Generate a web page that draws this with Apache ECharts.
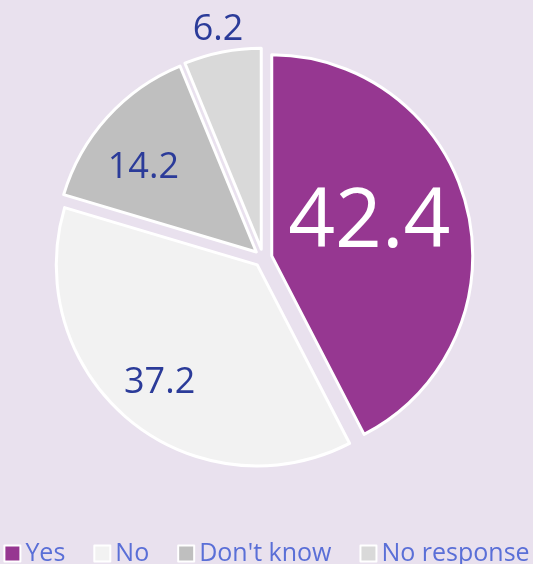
<!DOCTYPE html>
<html>
<head>
<meta charset="utf-8">
<script src="https://cdn.jsdelivr.net/npm/echarts@6/dist/echarts.min.js"></script>
<style>
  html, body { margin: 0; padding: 0; background: #e9e1ee; }
  #chart { width: 533px; height: 564px; }
</style>
</head>
<body>
<div id="chart"></div>
<script>
const categories = ['Yes', 'No', "Don't know", 'No response'];
const values = [42.4, 37.2, 14.2, 6.2];
const sliceColors = ['#963791', '#f2f2f2', '#bfbfbf', '#d9d9d9'];

// how far out each label sits, relative to the default inside spot, plus a small nudge
const labelScale = [1.0, 1.48, 1.38, 2.16];
const labelNudge = [[-3, -8], [0, 0], [-7, 12], [0, 0]];
const CX = 263, CY = 258;

const myChart = echarts.init(document.getElementById('chart'));

const option = {
  backgroundColor: '#e9e1ee',
  animation: false,
  legend: {
    top: 541,
    left: 'center',
    padding: 0,
    icon: 'rect',
    itemWidth: 16,
    itemHeight: 16,
    itemGap: 28,
    selectedMode: false,
    itemStyle: { borderColor: '#ffffff', borderWidth: 2 },
    textStyle: { color: '#5a6fd7', fontSize: 25, fontFamily: 'Open Sans' },
    data: categories
  },
  series: [
    {
      type: 'pie',
      center: [CX, CY],
      radius: 201,
      startAngle: 90,
      selectedMode: 'multiple',
      selectedOffset: 9,
      itemStyle: { borderColor: '#ffffff', borderWidth: 3 },
      select: { itemStyle: { borderColor: '#ffffff', borderWidth: 3 } },
      emphasis: { disabled: true },
      label: {
        show: true,
        position: 'inside',
        formatter: '{c}',
        color: '#2b3b99',
        fontFamily: 'Open Sans',
        fontSize: 36
      },
      labelLine: { show: false },
      labelLayout: function (p) {
        const f = labelScale[p.dataIndex];
        const n = labelNudge[p.dataIndex];
        const lx = p.labelRect.x + p.labelRect.width / 2;
        const ly = p.labelRect.y + p.labelRect.height / 2;
        return { dx: (lx - CX) * (f - 1) + n[0], dy: (ly - CY) * (f - 1) + n[1] };
      },
      data: categories.map((name, i) => ({
        name: name,
        value: values[i],
        selected: true,
        itemStyle: { color: sliceColors[i] },
        label: i === 0 ? { color: '#ffffff', fontSize: 82 } : {}
      }))
    }
  ]
};

myChart.setOption(option);
</script>
</body>
</html>
